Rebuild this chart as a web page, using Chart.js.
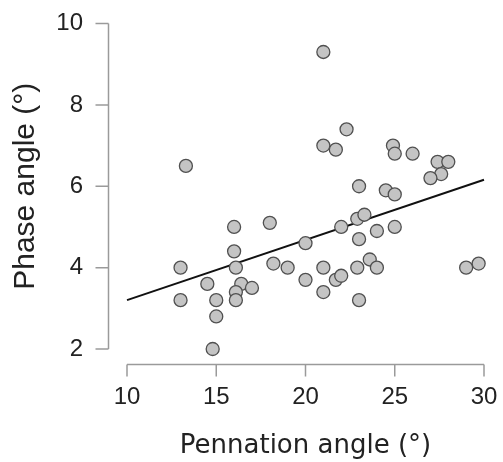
<!DOCTYPE html>
<html>
<head>
<meta charset="utf-8">
<script src="https://cdn.jsdelivr.net/npm/chart.js@4.4.1/dist/chart.umd.min.js"></script>
<style>
  html, body { margin: 0; padding: 0; background: #fff; }
  #wrap { width: 503px; height: 462px; }
</style>
</head>
<body>
<div id="wrap"><canvas id="c"></canvas></div>
<script>
// pennation angle (deg) vs phase angle (deg)
const pennation = [13, 13, 13.3, 14.5, 15, 15, 14.8, 16, 16, 16.1, 16.4, 16.1, 16.1, 17,
  18, 18.2, 19, 20, 20, 21, 21, 21.7, 22, 22, 22.9, 23, 23, 22.9, 23.3, 23, 23.6, 24, 24,
  24.5, 25, 25, 29, 29.7, 21, 22.3, 21, 21.7, 24.9, 25, 26, 27.4, 28, 27.6, 27];
const phase = [4.0, 3.2, 6.5, 3.6, 3.2, 2.8, 2.0, 5.0, 4.4, 4.0, 3.6, 3.4, 3.2, 3.5,
  5.1, 4.1, 4.0, 4.6, 3.7, 4.0, 3.4, 3.7, 3.8, 5.0, 4.0, 3.2, 4.7, 5.2, 5.3, 6.0, 4.2, 4.0, 4.9,
  5.9, 5.8, 5.0, 4.0, 4.1, 9.3, 7.4, 7.0, 6.9, 7.0, 6.8, 6.8, 6.6, 6.6, 6.3, 6.2];

// fitted line end points
const fitX = [10, 30];
const fitY = [3.2, 6.16];

const xTicks = [10, 15, 20, 25, 30];
const yTicks = [2, 4, 6, 8, 10];

const axisColor = '#9a9a9a';

// R-style detached axes drawn with the chart's own scales
const detachedAxes = {
  id: 'detachedAxes',
  afterDraw(chart) {
    const ctx = chart.ctx;
    const xs = chart.scales.x, ys = chart.scales.y;
    const area = chart.chartArea;
    ctx.save();
    ctx.strokeStyle = axisColor;
    ctx.lineWidth = 1.5;
    // y axis
    const ax = area.left - 18.5;
    ctx.beginPath();
    ctx.moveTo(ax, ys.getPixelForValue(yTicks[0]));
    ctx.lineTo(ax, ys.getPixelForValue(yTicks[yTicks.length - 1]));
    yTicks.forEach(v => {
      const py = ys.getPixelForValue(v);
      ctx.moveTo(ax, py);
      ctx.lineTo(ax - 13, py);
    });
    ctx.stroke();
    // x axis
    const ay = area.bottom + 15.5;
    ctx.beginPath();
    ctx.moveTo(xs.getPixelForValue(xTicks[0]), ay);
    ctx.lineTo(xs.getPixelForValue(xTicks[xTicks.length - 1]), ay);
    xTicks.forEach(v => {
      const px = xs.getPixelForValue(v);
      ctx.moveTo(px, ay);
      ctx.lineTo(px, ay + 12);
    });
    ctx.stroke();
    ctx.restore();
  }
};

new Chart(document.getElementById('c'), {
  type: 'scatter',
  data: {
    datasets: [
      {
        type: 'line',
        data: fitX.map((x, i) => ({ x: x, y: fitY[i] })),
        borderColor: '#111',
        borderWidth: 2,
        pointRadius: 0,
        fill: false,
        order: 2
      },
      {
        data: pennation.map((x, i) => ({ x: x, y: phase[i] })),
        backgroundColor: '#c4c4c4',
        borderColor: '#505050',
        borderWidth: 1.3,
        pointRadius: 6.5,
        order: 1
      }
    ]
  },
  options: {
    responsive: true,
    maintainAspectRatio: false,
    animation: false,
    clip: false,
    layout: { padding: { top: 23.5, right: 19, bottom: 0, left: 8 } },
    plugins: { legend: { display: false }, tooltip: { enabled: false } },
    scales: {
      x: {
        type: 'linear',
        min: 10, max: 30,
        afterFit(scale) {
          scale.height = 113;
          scale.paddingLeft = 0;
          scale.paddingRight = 0;
        },
        afterBuildTicks(scale) { scale.ticks = xTicks.map(v => ({ value: v })); },
        grid: { display: false, drawTicks: false },
        border: { display: false },
        ticks: { padding: 34, color: '#222', font: { family: 'Liberation Sans', size: 24 } },
        title: {
          display: true,
          text: 'Pennation angle (°)',
          color: '#222',
          font: { family: 'DejaVu Sans', size: 26 },
          padding: { top: 0, bottom: 0 }
        }
      },
      y: {
        type: 'linear',
        min: 2, max: 10,
        afterFit(scale) {
          scale.width = 119;
          scale.paddingTop = 0;
          scale.paddingBottom = 0;
        },
        afterBuildTicks(scale) { scale.ticks = yTicks.map(v => ({ value: v })); },
        grid: { display: false, drawTicks: false },
        border: { display: false },
        ticks: { padding: 44, color: '#222', font: { family: 'Liberation Sans', size: 24 } },
        title: {
          display: true,
          text: 'Phase angle (°)',
          color: '#222',
          font: { family: 'Liberation Sans', size: 30 },
          padding: { top: 0, bottom: 0 }
        }
      }
    }
  },
  plugins: [detachedAxes]
});
</script>
</body>
</html>
